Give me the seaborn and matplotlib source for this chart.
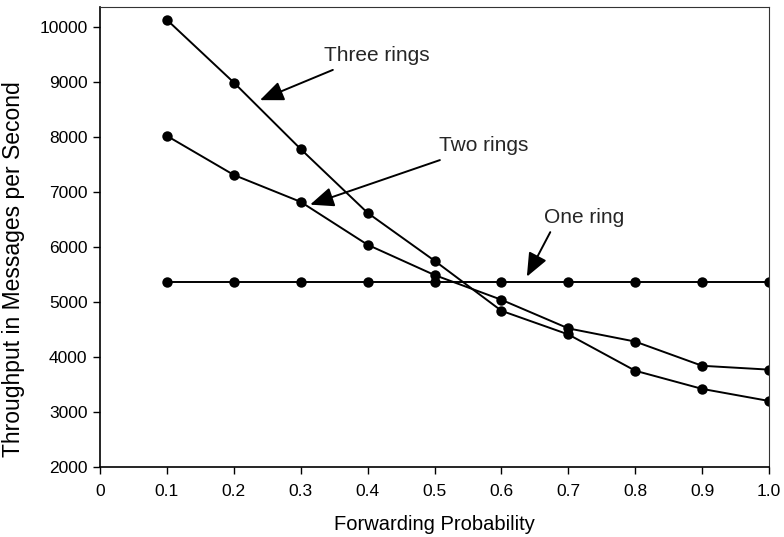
import matplotlib
matplotlib.use("Agg")
import matplotlib.pyplot as plt
import numpy as np
import pandas as pd
import seaborn as sns

# data
forwarding_prob = [0.1, 0.2, 0.3, 0.4, 0.5, 0.6, 0.7, 0.8, 0.9, 1.0]
three_rings = [10130, 8990, 7780, 6620, 5750, 4840, 4410, 3750, 3420, 3200]
two_rings = [8020, 7310, 6820, 6040, 5490, 5040, 4520, 4280, 3840, 3770]
one_ring = [5370, 5370, 5370, 5370, 5370, 5370, 5370, 5370, 5370, 5370]
series_names = ["Three rings", "Two rings", "One ring"]
x_ticks = [0, 0.1, 0.2, 0.3, 0.4, 0.5, 0.6, 0.7, 0.8, 0.9, 1.0]
x_tick_labels = ["0", "0.1", "0.2", "0.3", "0.4", "0.5", "0.6", "0.7", "0.8", "0.9", "1.0"]
y_ticks = [2000, 3000, 4000, 5000, 6000, 7000, 8000, 9000, 10000]

df = pd.DataFrame({
    "x": forwarding_prob * 3,
    "y": three_rings + two_rings + one_ring,
    "series": np.repeat(series_names, len(forwarding_prob)),
})

sns.set_theme(style="white")
plt.rcParams["font.family"] = ["Liberation Sans", "DejaVu Sans"]

fig = plt.figure(figsize=(7.84, 5.37), dpi=100)
ax = fig.add_axes([0.1276, 0.1304, 0.8533, 0.8566])

sns.lineplot(
    data=df, x="x", y="y", hue="series", style="series",
    palette=["black"] * 3, markers=["o"] * 3, dashes=False,
    markersize=7.5, markeredgewidth=0, linewidth=1.4,
    legend=False, ax=ax,
)

ax.set_xlim(0, 1.0)
ax.set_ylim(2000, 10364)
ax.set_xticks(x_ticks)
ax.set_xticklabels(x_tick_labels)
ax.set_yticks(y_ticks)
ax.tick_params(axis="both", direction="out", length=5, width=1, color="black",
               labelsize=12.5, labelcolor="black")
ax.tick_params(axis="x", pad=7)
ax.tick_params(axis="y", pad=4)
ax.xaxis.set_ticks_position("bottom")
ax.yaxis.set_ticks_position("left")

for side in ["left", "bottom"]:
    ax.spines[side].set_color("black")
    ax.spines[side].set_linewidth(1.2)
for side in ["top", "right"]:
    ax.spines[side].set_color("#333333")
    ax.spines[side].set_linewidth(0.8)

ax.set_xlabel("Forwarding Probability", fontsize=14.5, color="black", labelpad=12)
ax.set_ylabel("Throughput in Messages per Second", fontsize=16.5, color="black")
ax.yaxis.set_label_coords(-0.112, 0.43)

arrow = dict(arrowstyle="-|>,head_length=0.6,head_width=0.25", mutation_scale=24,
             lw=1.4, color="black", shrinkA=0, shrinkB=0)
ax.annotate("", xy=(0.239, 8670), xytext=(0.348, 9220), arrowprops=arrow)
ax.text(0.413, 9480, "Three rings", fontsize=15, ha="center", va="center")
ax.annotate("", xy=(0.314, 6770), xytext=(0.508, 7580), arrowprops=arrow)
ax.text(0.573, 7840, "Two rings", fontsize=15, ha="center", va="center")
ax.annotate("", xy=(0.638, 5460), xytext=(0.673, 6270), arrowprops=arrow)
ax.text(0.723, 6530, "One ring", fontsize=15, ha="center", va="center")

fig.savefig("out.png", dpi=100)
